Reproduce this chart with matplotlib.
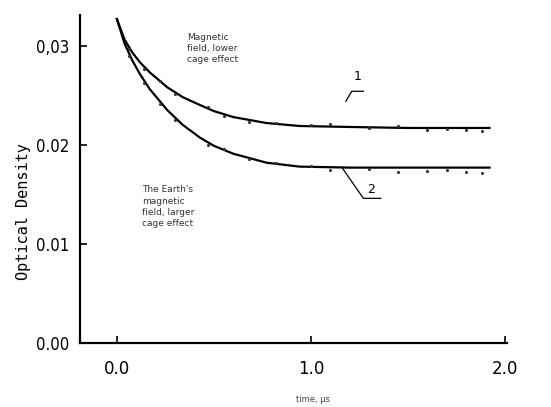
import matplotlib
matplotlib.use('Agg')
from matplotlib import pyplot as plt

# values
time_us = [0.0, 0.04, 0.08, 0.12, 0.17, 0.26, 0.34, 0.43, 0.50, 0.60, 0.77, 0.94, 1.20, 1.50, 1.92]
curve_1 = [0.0327, 0.0306, 0.0293, 0.0283, 0.0273, 0.0258, 0.0248, 0.0240, 0.0234, 0.0228, 0.0222, 0.0219, 0.0218, 0.0217, 0.0217]
curve_2 = [0.0327, 0.0302, 0.0285, 0.0271, 0.0256, 0.0235, 0.0220, 0.0207, 0.0199, 0.0191, 0.0182, 0.0178, 0.0177, 0.0177, 0.0177]

# scattered measurement dots along the curves
dots_1_t = [0.06, 0.14, 0.22, 0.30, 0.47, 0.55, 0.68, 0.82, 1.0, 1.1, 1.3, 1.45, 1.6, 1.7, 1.8, 1.88]
dots_1_v = [0.0297, 0.0277, 0.0264, 0.0251, 0.0238, 0.0229, 0.0223, 0.0222, 0.0220, 0.0221, 0.0217, 0.0219, 0.0215, 0.0216, 0.0215, 0.0214]
dots_2_t = [0.06, 0.14, 0.22, 0.30, 0.47, 0.55, 0.68, 0.82, 1.0, 1.1, 1.3, 1.45, 1.6, 1.7, 1.8, 1.88]
dots_2_v = [0.0290, 0.0262, 0.0241, 0.0225, 0.0200, 0.0196, 0.0186, 0.0182, 0.0179, 0.0175, 0.0176, 0.0173, 0.0174, 0.0175, 0.0173, 0.0172]

y_ticks = [0.0, 0.01, 0.02, 0.03]
y_labels = ['0.00', '0.01', '0.02', '0,03']
x_ticks = [0.0, 1.0, 2.0]
x_labels = ['0.0', '1.0', '2.0']

fig = plt.figure(figsize=(5.51, 4.07), dpi=100)
ax = fig.add_axes([80 / 551, 64 / 407, 427 / 551, 328 / 407])

ax.plot(time_us, curve_1, color='black', lw=1.6)
ax.plot(time_us, curve_2, color='black', lw=1.6)
ax.plot(dots_1_t, dots_1_v, ls='none', marker='.', ms=2.5, color='#333333')
ax.plot(dots_2_t, dots_2_v, ls='none', marker='.', ms=2.5, color='#333333')

ax.set_xlim(-0.19, 2.01)
ax.set_ylim(0.0, 0.0331)
for s in ['top', 'right']:
    ax.spines[s].set_visible(False)
for s in ['left', 'bottom']:
    ax.spines[s].set_linewidth(1.6)

ax.set_yticks(y_ticks)
ax.set_yticklabels(y_labels, fontsize=12, fontstretch='condensed')
ax.set_xticks(x_ticks)
ax.set_xticklabels(x_labels, fontsize=12)
ax.tick_params(axis='both', direction='in', length=5, width=1.2)
ax.tick_params(axis='x', pad=12)
ax.tick_params(axis='y', pad=8)

ax.set_ylabel('Optical Density', family='DejaVu Sans Mono', fontsize=11)
ax.yaxis.set_label_coords(-49 / 427, 0.40)
ax.set_xlabel('time, \u00b5s', fontsize=6, color='#444444')
ax.xaxis.set_label_coords((313 - 80) / 427, -52 / 328)

ax.text(0.36, 0.0313, 'Magnetic\nfield, lower\ncage effect', fontsize=6.5,
        color='#333333', va='top', linespacing=1.3)
ax.text(0.13, 0.0159, "The Earth's\nmagnetic\nfield, larger\ncage effect", fontsize=6.5,
        color='#333333', va='top', linespacing=1.3)

# label 1 and its leader
ax.text(1.24, 0.0262, '1', fontsize=9, ha='center', va='bottom')
ax.plot([1.18, 1.21, 1.27], [0.0244, 0.0254, 0.0254], color='black', lw=0.9)
# label 2 and its leader
ax.text(1.31, 0.0148, '2', fontsize=9, ha='center', va='bottom')
ax.plot([1.16, 1.27, 1.36], [0.0177, 0.0146, 0.0146], color='black', lw=0.9)

plt.savefig('out.png', dpi=100)
plt.close()
